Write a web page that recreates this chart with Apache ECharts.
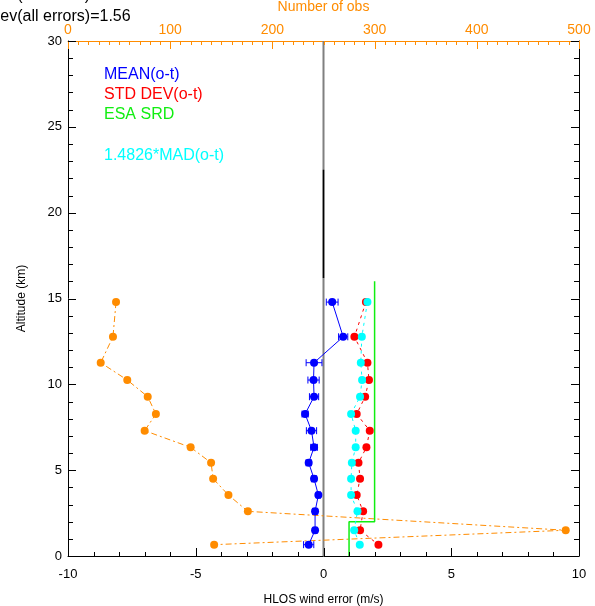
<!DOCTYPE html>
<html>
<head>
<meta charset="utf-8">
<script src="https://cdn.jsdelivr.net/npm/echarts@6/dist/echarts.min.js"></script>
<style>
  html, body { margin: 0; padding: 0; background: #fff; }
  #chart { width: 595px; height: 606px; }
</style>
</head>
<body>
<div id="chart"></div>
<script>
// altitude bins (km)
const altitudeKm = [14.79, 12.77, 11.26, 10.25, 9.28, 8.27, 7.30, 6.33, 5.43, 4.50, 3.55, 2.60, 1.50, 0.66];
// MEAN(o-t) and its error bar half width (m/s)
const meanOT = [0.34, 0.77, -0.37, -0.39, -0.37, -0.72, -0.47, -0.37, -0.58, -0.37, -0.20, -0.33, -0.33, -0.58];
const meanErr = [0.23, 0.18, 0.31, 0.22, 0.18, 0.12, 0.20, 0.13, 0.10, 0.10, 0.08, 0.10, 0.08, 0.20];
// STD DEV(o-t) and 1.4826*MAD(o-t) (m/s)
const stdDevOT = [1.66, 1.21, 1.72, 1.78, 1.63, 1.30, 1.81, 1.68, 1.37, 1.43, 1.30, 1.55, 1.43, 2.15];
const madOT = [1.72, 1.50, 1.46, 1.51, 1.43, 1.08, 1.26, 1.26, 1.11, 1.08, 1.08, 1.33, 1.20, 1.42];
// number of obs (top axis)
const numObs = [47, 44, 32, 58, 78, 86, 75, 120, 140, 142, 157, 176, 487, 143];
// ESA SRD requirement step
const srdWind = [1, 1, 2, 2];
const srdAlt = [0, 2, 2, 16];
// zero reference line
const zeroAlt = [0, 30];
const zeroDarkAlt = [16.2, 22.5];

// axis ranges
const windRange = [-10, 10];   // major 5, minor 1
const obsRange = [0, 500];     // major 100, minor 10
const altRange = [0, 30];      // major 5, minor 1

const FONT = 'Liberation Sans, Arial, Helvetica, sans-serif';
const BLUE = '#0000ff';
const RED = '#ff0000';
const GREEN = '#11ee11';
const CYAN = '#00ffff';
const ORANGE = '#ff8c00';

const GRID = { left: 68, top: 41, width: 511, height: 515 };

function pairs(xs, ys) {
  return xs.map((v, i) => [v, ys[i]]);
}

function axisStyle(color) {
  return {
    axisLine: { show: true, onZero: false, lineStyle: { color, width: 1 } },
    axisTick: { show: false },
    minorTick: { show: false },
    splitLine: { show: false },
  };
}

const chart = echarts.init(document.getElementById('chart'));

const textGraphics = [
  {
    type: 'text', x: -37, y: 4,
    style: { text: 'Std dev(all errors)=1.12', fontSize: 16, fontFamily: FONT, fill: '#000', verticalAlign: 'bottom' },
  },
  {
    type: 'text', x: -37, y: 17,
    style: { text: 'Std dev(all errors)=1.56', fontSize: 16, fontFamily: FONT, fill: '#000', verticalAlign: 'middle' },
  },
  { type: 'text', x: 104, y: 75, style: { text: 'MEAN(o-t)', fontSize: 16, fontFamily: FONT, fill: BLUE, verticalAlign: 'middle' } },
  { type: 'text', x: 104, y: 95, style: { text: 'STD DEV(o-t)', fontSize: 16, fontFamily: FONT, fill: RED, verticalAlign: 'middle' } },
  { type: 'text', x: 104, y: 115, style: { text: 'ESA SRD', fontSize: 16, fontFamily: FONT, fill: GREEN, verticalAlign: 'middle' } },
  { type: 'text', x: 104, y: 156, style: { text: '1.4826*MAD(o-t)', fontSize: 16, fontFamily: FONT, fill: CYAN, verticalAlign: 'middle' } },
];

const option = {
  animation: false,
  textStyle: { fontFamily: FONT },
  grid: Object.assign({ outerBoundsMode: 'none', containLabel: false }, GRID),
  xAxis: [
    Object.assign({
      type: 'value',
      position: 'bottom',
      min: windRange[0],
      max: windRange[1],
      interval: 5,
      name: 'HLOS wind error (m/s)',
      nameLocation: 'middle',
      nameGap: 38,
      nameTextStyle: { color: '#000', fontSize: 12, fontFamily: FONT },
      axisLabel: { color: '#000', fontSize: 13, margin: 12, fontFamily: FONT },
    }, axisStyle('#000')),
    Object.assign({
      type: 'value',
      position: 'top',
      min: obsRange[0],
      max: obsRange[1],
      interval: 100,
      name: 'Number of obs',
      nameLocation: 'middle',
      nameGap: 27,
      nameTextStyle: { color: ORANGE, fontSize: 14, fontFamily: FONT },
      axisLabel: { color: ORANGE, fontSize: 14, margin: 4, fontFamily: FONT },
    }, axisStyle(ORANGE)),
  ],
  yAxis: [
    Object.assign({
      type: 'value',
      position: 'left',
      min: altRange[0],
      max: altRange[1],
      interval: 5,
      name: 'Altitude (km)',
      nameLocation: 'middle',
      nameGap: 40,
      nameRotate: 90,
      nameTextStyle: { color: '#000', fontSize: 12, fontFamily: FONT },
      axisLabel: { color: '#000', fontSize: 13, margin: 6, fontFamily: FONT },
    }, axisStyle('#000')),
    Object.assign({
      type: 'value',
      position: 'right',
      min: altRange[0],
      max: altRange[1],
      interval: 5,
      axisLabel: { show: false },
    }, axisStyle('#000')),
  ],
  graphic: textGraphics,
  series: [
    {
      // zero line
      type: 'line',
      data: zeroAlt.map(a => [0, a]),
      symbol: 'none',
      lineStyle: { color: '#808080', width: 2 },
      z: 1,
    },
    {
      type: 'line',
      data: zeroDarkAlt.map(a => [0, a]),
      symbol: 'none',
      lineStyle: { color: '#000', width: 1.5 },
      z: 1,
    },
    {
      name: 'Number of obs',
      type: 'line',
      xAxisIndex: 1,
      data: pairs(numObs, altitudeKm),
      symbol: 'circle',
      symbolSize: 8,
      itemStyle: { color: ORANGE },
      lineStyle: { color: ORANGE, width: 1, type: [6, 3, 2, 3] },
      z: 2,
    },
    {
      name: 'ESA SRD',
      type: 'line',
      data: pairs(srdWind, srdAlt),
      symbol: 'none',
      lineStyle: { color: GREEN, width: 1.5 },
      z: 3,
    },
    {
      name: 'STD DEV(o-t)',
      type: 'line',
      data: pairs(stdDevOT, altitudeKm),
      symbol: 'circle',
      symbolSize: 8,
      itemStyle: { color: RED },
      lineStyle: { color: RED, width: 1, type: [3, 4] },
      z: 4,
    },
    {
      name: '1.4826*MAD(o-t)',
      type: 'line',
      data: pairs(madOT, altitudeKm),
      symbol: 'circle',
      symbolSize: 8,
      itemStyle: { color: CYAN },
      lineStyle: { color: CYAN, width: 1, type: [3, 4] },
      z: 5,
    },
    {
      name: 'mean error bars',
      type: 'custom',
      data: meanOT.map((m, i) => [m, altitudeKm[i], meanErr[i]]),
      renderItem(params, api) {
        const x = api.value(0);
        const y = api.value(1);
        const e = api.value(2);
        const p0 = api.coord([x - e, y]);
        const p1 = api.coord([x + e, y]);
        const cap = 3.5;
        const style = { stroke: BLUE, lineWidth: 1 };
        return {
          type: 'group',
          children: [
            { type: 'line', shape: { x1: p0[0], y1: p0[1], x2: p1[0], y2: p1[1] }, style },
            { type: 'line', shape: { x1: p0[0], y1: p0[1] - cap, x2: p0[0], y2: p0[1] + cap }, style },
            { type: 'line', shape: { x1: p1[0], y1: p1[1] - cap, x2: p1[0], y2: p1[1] + cap }, style },
          ],
        };
      },
      z: 6,
    },
    {
      name: 'MEAN(o-t)',
      type: 'line',
      data: pairs(meanOT, altitudeKm),
      symbol: 'circle',
      symbolSize: 8,
      itemStyle: { color: BLUE },
      lineStyle: { color: BLUE, width: 1 },
      z: 7,
    },
  ],
};

chart.setOption(option);

// pixel position of a value on an axis, through the series' own scales
function toPx(seriesIndex, point, dim, range, start, size, flip) {
  const p = chart.convertToPixel({ seriesIndex }, point);
  if (p && isFinite(p[dim])) return p[dim];
  const v = point[dim];
  const t = (v - range[0]) / (range[1] - range[0]);
  return flip ? start + size - t * size : start + t * size;
}

// IDL style ticks pointing into the plot
const tickLines = [];
function tick(x1, y1, x2, y2, color) {
  tickLines.push({
    type: 'rect',
    z: 100,
    silent: true,
    shape: { x: Math.min(x1, x2), y: Math.min(y1, y2), width: Math.max(1, Math.abs(x2 - x1)), height: Math.max(1, Math.abs(y2 - y1)) },
    style: { fill: color },
  });
}
const bottom = GRID.top + GRID.height;
const right = GRID.left + GRID.width;
for (let v = windRange[0]; v <= windRange[1]; v += 1) {
  const px = Math.round(toPx(0, [v, 0], 0, windRange, GRID.left, GRID.width, false));
  tick(px, bottom, px, bottom - (v % 5 === 0 ? 8 : 4), '#000');
}
for (let v = obsRange[0]; v <= obsRange[1]; v += 10) {
  const px = Math.round(toPx(2, [v, 0], 0, obsRange, GRID.left, GRID.width, false));
  tick(px, GRID.top, px, GRID.top + (v % 100 === 0 ? 8 : 4), ORANGE);
}
for (let v = altRange[0]; v <= altRange[1]; v += 1) {
  const py = Math.round(toPx(0, [0, v], 1, altRange, GRID.top, GRID.height, true));
  const len = v % 5 === 0 ? 8 : 5;
  tick(GRID.left, py, GRID.left + len, py, '#000');
  tick(right - len, py, right, py, '#000');
}
chart.setOption({ graphic: textGraphics.concat(tickLines) });
</script>
</body>
</html>
